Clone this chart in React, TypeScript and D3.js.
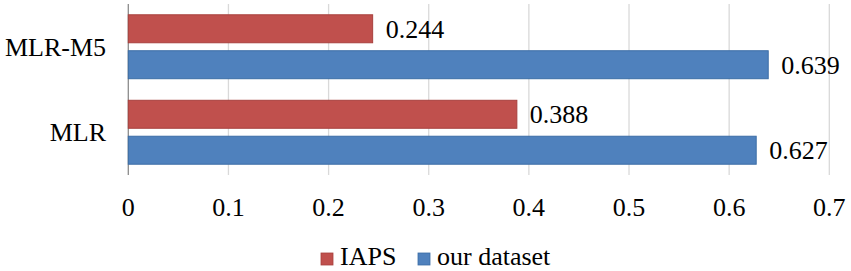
import React from "react";
import * as d3 from "d3";

const categories = ["MLR-M5", "MLR"];
const seriesNames = ["IAPS", "our dataset"];
const iapsValues = [0.244, 0.388];
const ourValues = [0.639, 0.627];
const tickValues = [0, 0.1, 0.2, 0.3, 0.4, 0.5, 0.6, 0.7];

const W = 851;
const H = 271;
const fills = ["#C0504D", "#4F81BD"];
const strokes = ["#A8403D", "#3B6DA6"];
const txt: React.CSSProperties = { fontFamily: '"Liberation Serif"', fontSize: "26px" };

export default function App() {
  const x = d3.scaleLinear().domain([0, 0.7]).range([128.3, 829.3]);
  const y = d3.scaleBand<string>().domain(categories).range([4, 175]).paddingInner(0).paddingOuter(0);
  const inner = d3
    .scaleBand<string>()
    .domain(seriesNames)
    .range([0, y.bandwidth()])
    .paddingInner(0.222)
    .paddingOuter(0.3);
  const values = [iapsValues, ourValues];

  return (
    <svg
      width={W}
      height={H}
      style={{ position: "absolute", left: 0, top: 0, background: "#fff" }}
    >
      {tickValues.map((t) => (
        <line
          key={"g" + t}
          x1={x(t)}
          x2={x(t)}
          y1={4}
          y2={175}
          stroke={t === 0 ? "#8C8C8C" : "#D9D9D9"}
          strokeWidth={1.3}
        />
      ))}
      {categories.map((c, ci) =>
        seriesNames.map((s, si) => {
          const v = values[si][ci];
          const y0 = (y(c) as number) + (inner(s) as number);
          return (
            <g key={c + s}>
              <rect
                x={x(0)}
                y={y0}
                width={x(v) - x(0)}
                height={inner.bandwidth()}
                fill={fills[si]}
                stroke={strokes[si]}
                strokeWidth={1}
              />
              <text x={x(v) + 13} y={y0 + inner.bandwidth() / 2 + 9} style={txt} fill="#000">
                {v.toFixed(3)}
              </text>
            </g>
          );
        })
      )}
      {categories.map((c) => (
        <text
          key={"c" + c}
          x={106}
          y={(y(c) as number) + y.bandwidth() / 2 + 9}
          textAnchor="end"
          style={txt}
          fill="#000"
        >
          {c}
        </text>
      ))}
      {tickValues.map((t) => (
        <text key={"t" + t} x={x(t)} y={216} textAnchor="middle" style={txt} fill="#000">
          {String(t)}
        </text>
      ))}
      {seriesNames.map((s, si) => {
        const lx = si === 0 ? 321 : 418;
        return (
          <g key={"l" + s}>
            <rect x={lx} y={253} width={12} height={12} fill={fills[si]} stroke={strokes[si]} strokeWidth={0.8} />
            <text x={lx + 19} y={265} style={txt} fill="#000">
              {s}
            </text>
          </g>
        );
      })}
    </svg>
  );
}
